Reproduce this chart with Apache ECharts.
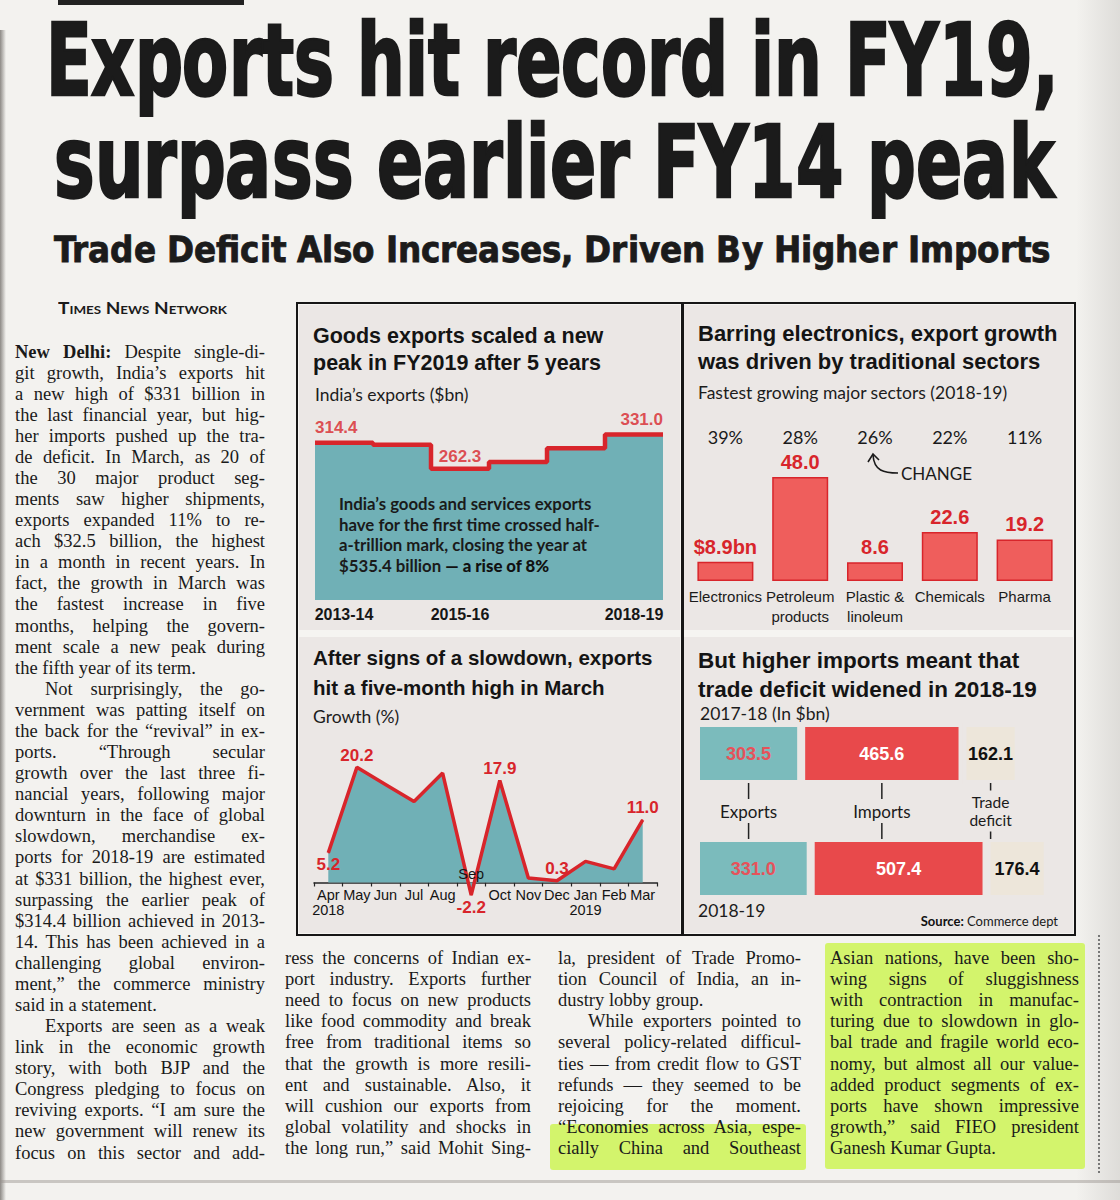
<!DOCTYPE html>
<html><head><meta charset="utf-8">
<script src="https://cdn.jsdelivr.net/npm/echarts@6/dist/echarts.min.js"></script>
<style>
@font-face{font-family:'HeadCond';src:local('DejaVu Sans Condensed Bold'),local('DejaVuSansCondensed-Bold');font-weight:700;ascent-override:76%;descent-override:6%;line-gap-override:0%;}
html,body{margin:0;padding:0;}
body{width:1120px;height:1200px;position:relative;overflow:hidden;background:#f3f2ef;color:#1c1c1c;}
.hl{position:absolute;white-space:nowrap;font-family:'HeadCond','DejaVu Sans Condensed','DejaVu Sans',sans-serif;font-weight:700;color:#1b1b1b;line-height:1;-webkit-text-stroke:2.5px #1b1b1b;}
.hl span,.ln span,.tnn span{display:inline-block;transform-origin:0 50%;white-space:nowrap;}
.ln{position:absolute;white-space:nowrap;font-family:'Liberation Serif',serif;font-size:18.5px;line-height:21px;height:21px;color:#1a1a1a;}
.tnn{position:absolute;font-family:Lato,sans-serif;font-weight:bold;font-variant:small-caps;font-size:17px;line-height:16px;color:#1b1b1b;}
.panel{position:absolute;}
.hi{position:absolute;background:#d3f46c;border-radius:3px;}
</style></head>
<body>
<div style="position:absolute;left:58px;top:0;width:186px;height:5px;background:#222;"></div>
<div style="position:absolute;left:0;top:30px;width:6px;height:1170px;background:linear-gradient(to right,#8d8a86,rgba(0,0,0,0));"></div>
<div style="position:absolute;left:1076px;top:0;width:44px;height:1200px;background:linear-gradient(to right,rgba(0,0,0,0),rgba(110,105,100,0.16));"></div>
<div style="position:absolute;left:1098px;top:935px;width:0;height:238px;border-left:2px dotted #777;"></div>
<div style="position:absolute;left:0;top:1180px;width:1120px;height:3px;background:rgba(150,145,140,0.45);"></div>

<div id="h1" class="hl" style="left:46px;top:10px;font-size:100px;"><span>Exports hit record in FY19,</span></div>
<div id="h2" class="hl" style="left:54px;top:112px;font-size:100px;"><span>surpass earlier FY14 peak</span></div>
<div id="h3" class="hl" style="left:54px;top:232px;font-size:36px;-webkit-text-stroke:0.8px #1b1b1b;"><span>Trade Deficit Also Increases, Driven By Higher Imports</span></div>
<div id="tnn" class="tnn" style="left:58px;top:300px;"><span>Times News Network</span></div>

<div class="hi" style="left:825px;top:943px;width:260px;height:226px;"></div>
<div class="hi" style="left:550px;top:1124px;width:256px;height:46px;"></div>

<div id="cols"></div>

<div style="position:absolute;left:296px;top:302px;width:780px;height:634px;border:2.5px solid #161616;box-sizing:border-box;background:#f5f4f1;"></div>
<div style="position:absolute;left:681px;top:302px;width:3px;height:634px;background:#161616;"></div>
<div id="pA" class="panel" style="left:299px;top:305px;width:381px;height:325px;"></div>
<div id="pB" class="panel" style="left:684px;top:305px;width:389px;height:325px;"></div>
<div id="pC" class="panel" style="left:299px;top:637px;width:381px;height:296px;"></div>
<div id="pD" class="panel" style="left:684px;top:637px;width:389px;height:296px;"></div>

<script>
// ---------------- DATA ----------------
const exportYears = ['2013-14','2014-15','2015-16','2016-17','2017-18','2018-19'];
const exportValues = [314.4, 310.3, 262.3, 275.8, 303.5, 331.0];
const exportAxisLabels = ['2013-14','2015-16','2018-19'];

const sectorNames = ['Electronics','Petroleum\nproducts','Plastic &\nlinoleum','Chemicals','Pharma'];
const sectorValues = [8.9, 48.0, 8.6, 22.6, 19.2];
const sectorChange = ['39%','28%','26%','22%','11%'];

const months = ['Apr','May','Jun','Jul','Aug','Sep','Oct','Nov','Dec','Jan','Feb','Mar'];
const monthYears = ['2018','','','','','','','','','2019','',''];
const growth = [5.2, 20.2, 17.2, 14.2, 19.2, -2.2, 17.9, 0.8, 0.3, 3.7, 2.4, 11.0];
const growthLabelled = ['Apr','May','Sep','Oct','Dec','Mar'];

const tradeYears = ['2017-18','2018-19'];
const tradeExports = [303.5, 331.0];
const tradeImports = [465.6, 507.4];
const tradeDeficit = [162.1, 176.4];
const tradeNames = ['Exports','Imports','Trade\ndeficit'];

// ---------------- STYLE ----------------
const NARROW = "'Liberation Sans Narrow', 'Arial Narrow', sans-serif";
const RED = '#d8252b', TEAL = '#70b0b6', PANEL = '#ebe7e5', BARRED = '#ef5e5c';
function titleStyle(fs, lh) { return {fontFamily: NARROW, fontWeight: 'bold', fontSize: fs, lineHeight: lh, color: '#141414'}; }
const SUB = {fontFamily: 'Lato', fontWeight: 'normal', fontSize: 17.5, lineHeight: 18, color: '#1c1c1c'};
const HIDDEN_Y = {axisLine: {show: false}, axisTick: {show: false}, axisLabel: {show: false}, splitLine: {show: false}};

// ---------------- PANEL A ----------------
const chartA = echarts.init(document.getElementById('pA'), null, {renderer: 'svg'});
const stepData = exportValues.map((v, i) => [i, v]);
stepData.push([exportValues.length, exportValues[exportValues.length - 1]]);
const segW = 348 / exportYears.length;
chartA.setOption({
  animation: false, backgroundColor: PANEL,
  title: [
    {text: 'Goods exports scaled a new\npeak in FY2019 after 5 years', left: 14, top: 17, padding: 0, textStyle: titleStyle(21.5, 27)},
    {text: 'India\u2019s exports ($bn)', left: 16, top: 80, padding: 0, textStyle: SUB}
  ],
  grid: {left: 16, top: 95, width: 348, height: 200},
  xAxis: {type: 'value', min: 0, max: exportYears.length, interval: 0.5,
    axisLine: {show: false}, axisTick: {show: false}, splitLine: {show: false},
    axisLabel: {margin: 6, fontFamily: NARROW, fontWeight: 'bold', fontSize: 16, color: '#161616',
      formatter: v => { const i = Math.floor(v); return (Math.abs(v - i - 0.5) < 1e-6 && exportAxisLabels.includes(exportYears[i])) ? exportYears[i] : ''; }}},
  yAxis: Object.assign({type: 'value', min: 0, max: 400}, HIDDEN_Y),
  series: [
    {type: 'line', step: 'end', data: stepData, symbol: 'none',
     lineStyle: {color: RED, width: 4.5}, areaStyle: {color: TEAL, opacity: 1}},
    {type: 'scatter', symbol: 'circle', symbolSize: 1, itemStyle: {color: 'transparent'},
     data: exportValues.map((v, i) => {
       const last = i === exportValues.length - 1;
       return {value: [i + 0.5, v], label: {
         show: exportAxisLabels.includes(exportYears[i]), position: 'top', distance: i === 2 ? 3 : 6,
         align: i === 0 ? 'left' : (last ? 'right' : 'center'),
         offset: [i === 0 ? -segW / 2 : (last ? segW / 2 : 0), 0],
         formatter: () => v.toFixed(1), fontFamily: NARROW, fontWeight: 'bold', fontSize: 17, color: RED}};
     })}
  ],
  graphic: [{type: 'text', z: 100, left: 40, top: 188, style: {
    text: 'India\u2019s goods and services exports\nhave for the first time crossed half-\na-trillion mark, closing the year at\n$535.4 billion {b|\u2014 a rise of 8%}',
    fontFamily: 'Lato', fontWeight: 'bold', fontSize: 16.8, lineHeight: 20.7, fill: '#1a1a1a',
    rich: {b: {fontFamily: 'Lato', fontWeight: 900, fontSize: 16.8, lineHeight: 20.7, fill: '#111'}}}}]
});

// ---------------- PANEL B ----------------
const chartB = echarts.init(document.getElementById('pB'), null, {renderer: 'svg'});
chartB.setOption({
  animation: false, backgroundColor: PANEL,
  title: [
    {text: 'Barring electronics, export growth\nwas driven by traditional sectors', left: 14, top: 14, padding: 0, textStyle: titleStyle(22, 28)},
    {text: 'Fastest growing major sectors (2018-19)', left: 14, top: 78, padding: 0, textStyle: SUB}
  ],
  grid: {left: 4, top: 146, width: 374, height: 130},
  xAxis: [
    {type: 'category', data: sectorNames, axisLine: {show: false}, axisTick: {show: false},
     axisLabel: {interval: 0, margin: 5, fontFamily: NARROW, fontSize: 15, lineHeight: 20, color: '#1a1a1a'}},
    {type: 'category', data: sectorChange, position: 'top', axisLine: {show: false}, axisTick: {show: false},
     axisLabel: {interval: 0, margin: 5, fontFamily: 'Lato', fontSize: 18, color: '#1a1a1a'}}
  ],
  yAxis: Object.assign({type: 'value', min: 0, max: 60}, HIDDEN_Y),
  series: [{type: 'bar', data: sectorValues, barWidth: 56,
    itemStyle: {color: BARRED, borderColor: RED, borderWidth: 1.5},
    label: {show: true, position: 'top', distance: 5,
      formatter: p => p.dataIndex === 0 ? '$' + p.value.toFixed(1) + 'bn' : p.value.toFixed(1),
      fontFamily: NARROW, fontWeight: 'bold', fontSize: 20, color: RED}}],
  graphic: [
    {type: 'bezierCurve', z: 100, shape: {x1: 189, y1: 150, cpx1: 190, cpy1: 166, cpx2: 200, cpy2: 168, x2: 214, y2: 168},
     style: {stroke: '#1a1a1a', lineWidth: 1.6, fill: null}},
    {type: 'polyline', z: 100, shape: {points: [[184, 157], [189, 149], [195, 155]]}, style: {stroke: '#1a1a1a', lineWidth: 1.6, fill: null}},
    {type: 'text', z: 100, left: 217, top: 160, style: {text: 'CHANGE', fontFamily: 'Lato', fontSize: 17, fill: '#1a1a1a'}}
  ]
});

// ---------------- PANEL C ----------------
const chartC = echarts.init(document.getElementById('pC'), null, {renderer: 'svg'});
chartC.setOption({
  animation: false, backgroundColor: PANEL,
  title: [
    {text: 'After signs of a slowdown, exports\nhit a five-month high in March', left: 14, top: 5, padding: 0, textStyle: titleStyle(20.5, 30)},
    {text: 'Growth (%)', left: 14, top: 70, padding: 0, textStyle: SUB}
  ],
  grid: {left: 15, top: 103, width: 343, height: 142.5},
  xAxis: {type: 'category', data: months,
    axisLine: {lineStyle: {color: '#262626', width: 1.5}},
    axisTick: {show: true, length: 4, lineStyle: {color: '#262626', width: 1.2}},
    axisLabel: {interval: 0, margin: 5, fontFamily: NARROW, fontSize: 14.5, lineHeight: 15, color: '#141414',
      formatter: (v, i) => v === 'Sep' ? '' : (monthYears[i] ? v + '\n' + monthYears[i] : v)}},
  yAxis: Object.assign({type: 'value', min: 0, max: 25}, HIDDEN_Y),
  series: [{type: 'line', clip: false, symbol: 'circle', symbolSize: 1, itemStyle: {color: RED},
    lineStyle: {color: RED, width: 3.5}, areaStyle: {color: TEAL, opacity: 1, origin: 0},
    data: growth.map((v, i) => ({value: v, label: {
      show: growthLabelled.includes(months[i]),
      position: (i === 0 || v < 0) ? 'bottom' : 'top', distance: 3,
      formatter: () => v.toFixed(1), fontFamily: NARROW, fontWeight: 'bold', fontSize: 17, color: RED}})),
    markPoint: {symbol: 'circle', symbolSize: 1, itemStyle: {color: 'transparent'},
      data: [{coord: [months.indexOf('Sep'), 0]}],
      label: {show: true, position: 'top', distance: 1, formatter: () => 'Sep',
        fontFamily: NARROW, fontSize: 14.5, color: '#141414'}}}]
});

// ---------------- PANEL D ----------------
const chartD = echarts.init(document.getElementById('pD'), null, {renderer: 'svg'});
const blockColors = ['#7bbbbc', '#e8494b', '#ede6da'];
const blockLabel = ['#e6525a', '#ffffff', '#111111'];
const tradeSeries = [tradeExports, tradeImports, tradeDeficit];
chartD.setOption({
  animation: false, backgroundColor: PANEL,
  title: [
    {text: 'But higher imports meant that\ntrade deficit widened in 2018-19', left: 14, top: 9, padding: 0, textStyle: titleStyle(22.5, 29)},
    {text: tradeYears[0] + ' (In $bn)', left: 16, top: 67, padding: 0, textStyle: SUB},
    {text: tradeYears[1], left: 14, top: 264, padding: 0, textStyle: SUB}
  ],
  grid: {left: 12, top: 59, width: 350, height: 230},
  xAxis: {type: 'value', min: 0, max: 1010, show: false},
  yAxis: {type: 'category', data: tradeYears, inverse: true, show: false},
  series: tradeSeries.map((arr, k) => ({
    name: tradeNames[k], type: 'bar', stack: 'trade', data: arr, barWidth: 61,
    itemStyle: {color: blockColors[k], borderColor: PANEL, borderWidth: 4},
    label: {show: true, position: 'inside', formatter: p => p.value.toFixed(1),
      fontFamily: "'Liberation Sans', Arial, sans-serif", fontWeight: 'bold', fontSize: 18, color: blockLabel[k]}}))
});
(function () {
  const g = [{type: 'text', id: 'src', z: 100, right: 15, top: 277, style: {
    text: '{b|Source:} Commerce dept', fontFamily: 'Lato', fontSize: 13, fill: '#1a1a1a',
    rich: {b: {fontFamily: 'Lato', fontWeight: 'bold', fontSize: 13, fill: '#111'}}}}];
  let cum = 0;
  tradeSeries.forEach((arr, k) => {
    const mid = cum + arr[0] / 2; cum += arr[0];
    const p1 = chartD.convertToPixel({gridIndex: 0}, [mid, 0]);
    const p2 = chartD.convertToPixel({gridIndex: 0}, [mid, 1]);
    const half = 28.5;
    const top = p1[1] + half, bot = p2[1] - half, my = (top + bot) / 2;
    const lines = tradeNames[k].split('\n').length;
    const fs = lines > 1 ? 15.5 : 17;
    const lh = lines > 1 ? 18.5 : 20;
    const h = lines * lh;
    const x = p1[0];
    g.push({type: 'line', id: 'la' + k, z: 100, shape: {x1: x, y1: top + 1, x2: x, y2: my - h / 2 - 2}, style: {stroke: '#222', lineWidth: 1.5}});
    g.push({type: 'line', id: 'lb' + k, z: 100, shape: {x1: x, y1: my + h / 2 + 2, x2: x, y2: bot - 1}, style: {stroke: '#222', lineWidth: 1.5}});
    g.push({type: 'text', id: 'lt' + k, z: 100, x: x, y: my, style: {text: tradeNames[k], align: 'center', verticalAlign: 'middle',
      fontFamily: 'Lato', fontSize: fs, lineHeight: lh, fill: '#1a1a1a'}});
  });
  chartD.setOption({graphic: g});
})();

// ---------------- ARTICLE TEXT ----------------
const colLeft = [
 ['<b>New Delhi:</b> Despite single-di-',1,0],['git growth, India\u2019s exports hit',1,0],['a new high of $331 billion in',1,0],
 ['the last financial year, but hig-',1,0],['her imports pushed up the tra-',1,0],['de deficit. In March, as 20 of',1,0],
 ['the 30 major product seg-',1,0],['ments saw higher shipments,',1,0],['exports expanded 11% to re-',1,0],
 ['ach $32.5 billion, the highest',1,0],['in a month in recent years. In',1,0],['fact, the growth in March was',1,0],
 ['the fastest increase in five',1,0],['months, helping the govern-',1,0],['ment scale a new peak during',1,0],
 ['the fifth year of its term.',0,0],['Not surprisingly, the go-',1,1],['vernment was patting itself on',1,0],
 ['the back for the \u201crevival\u201d in ex-',1,0],['ports. \u201cThrough secular',1,0],['growth over the last three fi-',1,0],
 ['nancial years, following major',1,0],['downturn in the face of global',1,0],['slowdown, merchandise ex-',1,0],
 ['ports for 2018-19 are estimated',1,0],['at $331 billion, the highest ever,',1,0],['surpassing the earlier peak of',1,0],
 ['$314.4 billion achieved in 2013-',1,0],['14. This has been achieved in a',1,0],['challenging global environ-',1,0],
 ['ment,\u201d the commerce ministry',1,0],['said in a statement.',0,0],['Exports are seen as a weak',1,1],
 ['link in the economic growth',1,0],['story, with both BJP and the',1,0],['Congress pledging to focus on',1,0],
 ['reviving exports. \u201cI am sure the',1,0],['new government will renew its',1,0],['focus on this sector and add-',1,0]
];
const col2 = [
 ['ress the concerns of Indian ex-',1,0],['port industry. Exports further',1,0],['need to focus on new products',1,0],
 ['like food commodity and break',1,0],['free from traditional items so',1,0],['that the growth is more resili-',1,0],
 ['ent and sustainable. Also, it',1,0],['will cushion our exports from',1,0],['global volatility and shocks in',1,0],
 ['the long run,\u201d said Mohit Sing-',1,0]
];
const col3 = [
 ['la, president of Trade Promo-',1,0],['tion Council of India, an in-',1,0],['dustry lobby group.',0,0],
 ['While exporters pointed to',1,1],['several policy-related difficul-',1,0],['ties \u2014 from credit flow to GST',1,0],
 ['refunds \u2014 they seemed to be',1,0],['rejoicing for the moment.',1,0],['\u201cEconomies across Asia, espe-',1,0],
 ['cially China and Southeast',1,0]
];
const col4 = [
 ['Asian nations, have been sho-',1,0],['wing signs of sluggishness',1,0],['with contraction in manufac-',1,0],
 ['turing due to slowdown in glo-',1,0],['bal trade and fragile world eco-',1,0],['nomy, but almost all our value-',1,0],
 ['added product segments of ex-',1,0],['ports have shown impressive',1,0],['growth,\u201d said FIEO president',1,0],
 ['Ganesh Kumar Gupta.',0,0]
];
const cols = document.getElementById('cols');
const pending = [];
function addCol(lines, x, w, y0, step) {
  lines.forEach((l, i) => {
    const d = document.createElement('div');
    d.className = 'ln';
    const ind = l[2] ? 30 : 0;
    d.style.left = (x + ind) + 'px';
    d.style.top = (y0 + i * step - 10.5) + 'px';
    d.style.width = (w - ind) + 'px';
    d.innerHTML = '<span>' + l[0] + '</span>';
    cols.appendChild(d);
    pending.push([d, w - ind, l[1]]);
  });
}
addCol(colLeft, 15, 250, 352, 21.08);
addCol(col2, 285, 246, 958, 21.2);
addCol(col3, 558, 243, 958, 21.2);
addCol(col4, 830, 249, 958, 21.2);
pending.forEach(([d, w, just]) => {
  const s = d.firstChild;
  const nat = s.getBoundingClientRect().width;
  if (nat > w) { s.style.transform = 'scaleX(' + (w / nat) + ')'; }
  else if (just) {
    const n = (s.textContent.match(/ /g) || []).length;
    if (n) s.style.wordSpacing = ((w - nat) / n) + 'px';
  }
});
function fitTo(id, width) {
  const s = document.getElementById(id).firstChild;
  const nat = s.getBoundingClientRect().width;
  s.style.transform = 'scaleX(' + (width / nat) + ')';
}
fitTo('h1', 1012);
fitTo('h2', 1000);
fitTo('h3', 996);
fitTo('tnn', 169);
</script>
</body></html>
